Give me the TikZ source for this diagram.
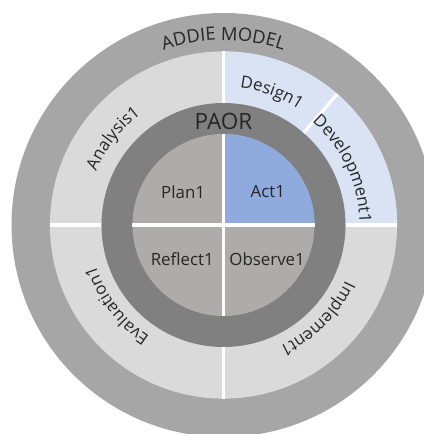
\documentclass[tikz,border=0pt]{standalone}
\usepackage{fontspec}
\setmainfont{Open Sans}
\usetikzlibrary{decorations.text}

\definecolor{outergray}{HTML}{A6A6A6}
\definecolor{bandgray}{HTML}{DADADA}
\definecolor{paleblue}{HTML}{DAE3F3}
\definecolor{ringgray}{HTML}{808080}
\definecolor{innergray}{HTML}{AFABAB}
\definecolor{actblue}{HTML}{8FAADC}
\definecolor{txtgray}{HTML}{262626}

\tikzset{
  divider/.style={white, line width=0.08cm},
  qlabel/.style={text=txtgray, font=\fontsize{12}{14}\selectfont},
  arclabel/.style={decorate, decoration={text along path, text align=center, text color=txtgray, text={#1}}}
}

\begin{document}
\begin{tikzpicture}
    \useasboundingbox (-5.5875,-5.225) rectangle (5.0125,5.625);
    \clip (-5.5875,-5.225) rectangle (5.0125,5.625);
    \fill[white] (-5.5875,-5.225) rectangle (5.0125,5.625);

    % Draw the outer ring
    \fill[outergray] (0,0) circle (5.3);

    % Draw the ADDIE quadrants
    \fill[bandgray] (0,0) circle (4.34);
    \fill[paleblue] (0,0) -- (0:4.34) arc[start angle=0, end angle=90, radius=4.34] -- cycle;

    % Draw the PAOR ring
    \fill[ringgray] (0,0) circle (3.05);

    % Draw the PAOR quadrants
    \fill[innergray] (0,0) circle (2.275);
    \fill[actblue] (0,0) -- (0:2.275) arc[start angle=0, end angle=90, radius=2.275] -- cycle;

    % White dividers
    \draw[divider] (0:3.05) -- (0:4.34);
    \draw[divider] (90:3.05) -- (90:4.34);
    \draw[divider] (180:3.05) -- (180:4.34);
    \draw[divider] (270:3.05) -- (270:4.34);
    \draw[divider] (49:3.05) -- (49:4.34);
    \draw[divider] (-2.275,0) -- (2.275,0);
    \draw[divider] (0,-2.275) -- (0,2.275);

    % Label the rings
    \path[arclabel={|\fontsize{13}{15}\selectfont|ADDIE MODEL}] (135:4.62) arc[start angle=135, end angle=45, radius=4.62];
    \node[text=txtgray, font=\fontsize{16}{18}\selectfont] (paor) at (0,2.6) {PAOR};

    % Label the ADDIE phases
    \path[arclabel={|\fontsize{12}{14}\selectfont|Analysis1}] (182:3.45) arc[start angle=182, end angle=102, radius=3.45];
    \path[arclabel={|\fontsize{12}{14}\selectfont|Design1}] (110:3.45) arc[start angle=110, end angle=30, radius=3.45];
    \path[arclabel={|\fontsize{12}{14}\selectfont|Development1}] (70:3.4) arc[start angle=70, end angle=-20, radius=3.4];
    \path[arclabel={|\fontsize{12}{14}\selectfont|Implement1}] (-5:3.35) arc[start angle=-5, end angle=-85, radius=3.35];
    \path[arclabel={|\fontsize{12}{14}\selectfont|Evaluation1}] (-103:3.35) arc[start angle=-103, end angle=-183, radius=3.35];

    % Label the PAOR quadrants
    \node[qlabel] (plan) at (-1.01, 0.825) {Plan1};
    \node[qlabel] (act) at (1.11, 0.825) {Act1};
    \node[qlabel] (reflect) at (-1.03, -0.85) {Reflect1};
    \node[qlabel] (observe) at (1.09, -0.85) {Observe1};
\end{tikzpicture}
\end{document}
